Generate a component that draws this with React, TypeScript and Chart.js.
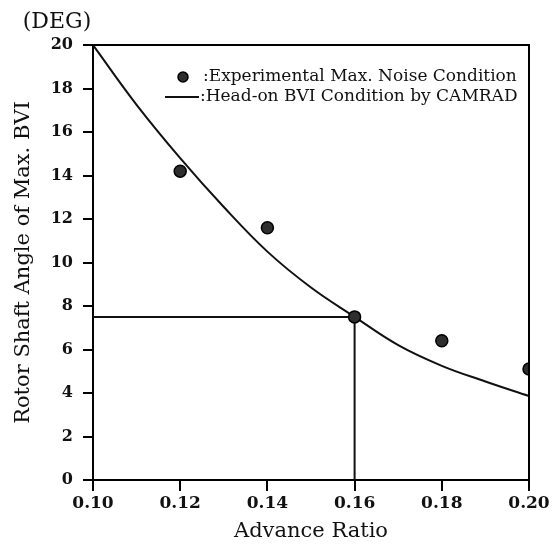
import React, { useEffect, useRef } from 'react';
import { Chart, registerables } from 'chart.js';

Chart.register(...registerables);

// ---- data ----
const xTickLabels = ['0.10', '0.12', '0.14', '0.16', '0.18', '0.20'];
const yTickLabels = ['0', '2', '4', '6', '8', '10', '12', '14', '16', '18', '20'];

const curveAdvanceRatio = [0.10, 0.11, 0.12, 0.13, 0.14, 0.15, 0.16, 0.17, 0.18, 0.19, 0.20];
const curveShaftAngle = [20.0, 17.25, 14.8, 12.55, 10.5, 8.85, 7.5, 6.2, 5.25, 4.53, 3.86];

const expAdvanceRatio = [0.12, 0.14, 0.16, 0.18, 0.20];
const expShaftAngle = [14.2, 11.6, 7.5, 6.4, 5.1];

const refAdvanceRatio = [0.10, 0.16, 0.16];
const refShaftAngle = [7.5, 7.5, 0];

const expLabel = ':Experimental Max. Noise Condition';
const curveLabel = ':Head-on BVI Condition by CAMRAD';
const unitLabel = '(DEG)';
const xTitle = 'Advance Ratio';
const yTitle = 'Rotor Shaft Angle of Max. BVI';

const SERIF = "'DejaVu Serif', 'Liberation Serif', serif";
const INK = '#111';

const framePlugin = {
  id: 'frameAndLegend',
  afterDraw(chart: any) {
    const { ctx, chartArea } = chart;
    const { left, top, right, bottom } = chartArea;
    ctx.save();
    // top and right frame lines
    ctx.strokeStyle = '#000';
    ctx.lineWidth = 2;
    ctx.beginPath();
    ctx.moveTo(left, top);
    ctx.lineTo(right, top);
    ctx.lineTo(right, bottom);
    ctx.stroke();

    // unit label
    ctx.fillStyle = INK;
    ctx.font = `22px ${SERIF}`;
    ctx.textAlign = 'center';
    ctx.textBaseline = 'middle';
    ctx.fillText(unitLabel, 57, 22);

    // legend
    const dsExp = chart.data.datasets[0];
    const dsCurve = chart.data.datasets[1];
    const mx = left + 90;
    const my1 = top + 32;
    const my2 = top + 52;
    ctx.beginPath();
    ctx.arc(mx, my1, 5, 0, Math.PI * 2);
    ctx.fillStyle = dsExp.backgroundColor;
    ctx.fill();
    ctx.lineWidth = 1.5;
    ctx.strokeStyle = dsExp.borderColor;
    ctx.stroke();

    ctx.beginPath();
    ctx.moveTo(left + 72, my2);
    ctx.lineTo(left + 106, my2);
    ctx.lineWidth = dsCurve.borderWidth;
    ctx.strokeStyle = dsCurve.borderColor;
    ctx.stroke();

    ctx.fillStyle = INK;
    ctx.font = `17px ${SERIF}`;
    ctx.textAlign = 'left';
    ctx.textBaseline = 'middle';
    ctx.fillText(dsExp.label, left + 110, my1);
    ctx.fillText(dsCurve.label, left + 107, my2);
    ctx.restore();
  },
};

export default function App() {
  const ref = useRef<HTMLCanvasElement>(null);
  useEffect(() => {
    const canvas = ref.current!;
    const chart = new Chart(canvas, {
      type: 'line',
      data: {
        datasets: [
          {
            type: 'scatter',
            label: expLabel,
            data: expAdvanceRatio.map((x, i) => ({ x, y: expShaftAngle[i] })),
            pointRadius: 6,
            pointHoverRadius: 6,
            backgroundColor: '#2e2e2e',
            borderColor: '#000',
            borderWidth: 1.5,
            showLine: false,
          } as any,
          {
            label: curveLabel,
            data: curveAdvanceRatio.map((x, i) => ({ x, y: curveShaftAngle[i] })),
            borderColor: INK,
            borderWidth: 2,
            pointRadius: 0,
            tension: 0.4,
            fill: false,
          },
          {
            label: 'reference',
            data: refAdvanceRatio.map((x, i) => ({ x, y: refShaftAngle[i] })),
            borderColor: INK,
            borderWidth: 2,
            pointRadius: 0,
            tension: 0,
            fill: false,
          },
        ],
      },
      options: {
        responsive: false,
        animation: false,
        layout: { padding: { top: 45, right: 27, left: 0, bottom: 0 } },
        plugins: { legend: { display: false }, tooltip: { enabled: false } },
        scales: {
          x: {
            type: 'linear',
            min: 0.1,
            max: 0.2,
            afterFit: (s: any) => {
              s.height = 64;
            },
            ticks: {
              stepSize: 0.02,
              autoSkip: false,
              maxRotation: 0,
              padding: 2,
              color: INK,
              font: { family: SERIF, size: 17, weight: 'bold' },
              callback: (v: any) => xTickLabels[Math.round((Number(v) - 0.1) / 0.02)] ?? '',
            },
            grid: { drawOnChartArea: false, drawTicks: true, tickLength: 11, color: '#000', lineWidth: 2 },
            border: { display: true, color: '#000', width: 2 },
            title: {
              display: true,
              text: xTitle,
              color: INK,
              font: { family: SERIF, size: 21 },
              padding: { top: 0, bottom: 0 },
            },
          },
          y: {
            type: 'linear',
            min: 0,
            max: 20,
            afterFit: (s: any) => {
              s.width = 93;
            },
            ticks: {
              stepSize: 2,
              autoSkip: false,
              padding: 10,
              color: INK,
              font: { family: SERIF, size: 16, weight: 'bold' },
              callback: (v: any) => yTickLabels[Math.round(Number(v) / 2)] ?? '',
            },
            grid: { drawOnChartArea: false, drawTicks: true, tickLength: 10, color: '#000', lineWidth: 2 },
            border: { display: true, color: '#000', width: 2 },
            title: {
              display: true,
              text: yTitle,
              color: INK,
              font: { family: SERIF, size: 21 },
              padding: { top: 11, bottom: 0 },
            },
          },
        },
      },
      plugins: [framePlugin],
    });
    return () => chart.destroy();
  }, []);
  return (
    <div style={{ position: 'fixed', left: 0, top: 0, width: 556, height: 544, background: '#fff' }}>
      <canvas ref={ref} width={556} height={544} style={{ display: 'block' }} />
    </div>
  );
}
